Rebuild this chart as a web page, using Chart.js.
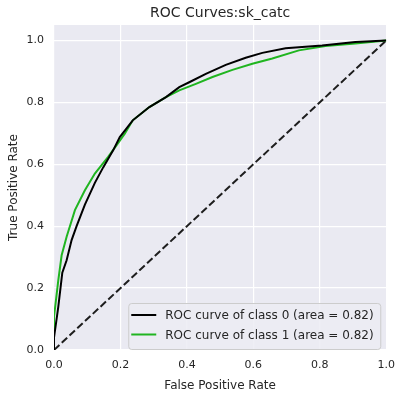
<!DOCTYPE html>
<html>
<head>
<meta charset="utf-8">
<script src="https://cdn.jsdelivr.net/npm/chart.js@4/dist/chart.umd.min.js"></script>
<style>
  html, body { margin: 0; padding: 0; background: #fff; }
  #wrap { width: 404px; height: 397px; }
</style>
</head>
<body>
<div id="wrap"><canvas id="roc"></canvas></div>
<script>
// values
const fpr0 = [0, 0, 0.013, 0.025, 0.038, 0.053, 0.068, 0.093, 0.123, 0.148, 0.178, 0.198, 0.237, 0.287, 0.337, 0.377, 0.407, 0.457, 0.517, 0.577, 0.627, 0.697, 0.807, 0.907, 1.0];
const tpr0 = [0, 0.04, 0.14, 0.25, 0.29, 0.355, 0.40, 0.47, 0.54, 0.59, 0.645, 0.688, 0.742, 0.785, 0.817, 0.849, 0.865, 0.892, 0.921, 0.944, 0.960, 0.975, 0.984, 0.995, 1.0];
const fpr1 = [0, 0, 0.013, 0.023, 0.038, 0.063, 0.093, 0.123, 0.163, 0.188, 0.213, 0.237, 0.287, 0.337, 0.377, 0.427, 0.477, 0.537, 0.597, 0.657, 0.737, 0.817, 0.907, 1.0];
const tpr1 = [0, 0.107, 0.226, 0.306, 0.366, 0.452, 0.516, 0.57, 0.624, 0.661, 0.699, 0.742, 0.785, 0.817, 0.839, 0.86, 0.882, 0.905, 0.925, 0.942, 0.968, 0.982, 0.99, 1.0];
const diagX = [0, 1];
const diagY = [0, 1];
const tickVals = [0, 0.2, 0.4, 0.6, 0.8, 1.0];
const labels = ['ROC curve of class 0 (area = 0.82)', 'ROC curve of class 1 (area = 0.82)'];
const title = 'ROC Curves:sk_catc';

const font = "'DejaVu Sans', sans-serif";
const textColor = '#262626';

function pts(xs, ys) {
    return xs.map((x, i) => ({ x: x, y: ys[i] }));
}

// background, title and inside legend like seaborn darkgrid
const sbPlugin = {
    id: 'sbPlugin',
    beforeDraw(chart) {
        const a = chart.chartArea, ctx = chart.ctx;
        ctx.save();
        ctx.fillStyle = '#EAEAF2';
        ctx.fillRect(a.left, a.top, a.right - a.left, a.bottom - a.top);
        ctx.restore();
    },
    afterDraw(chart) {
        const a = chart.chartArea, ctx = chart.ctx;
        ctx.save();
        ctx.fillStyle = textColor;
        ctx.font = '14px ' + font;
        ctx.textAlign = 'center';
        ctx.textBaseline = 'middle';
        ctx.fillText(title, (a.left + a.right) / 2, 13);

        // legend box
        const w = 252, h = 46;
        const x0 = a.right - 6 - w, y0 = a.bottom - 1 - h;
        ctx.beginPath();
        ctx.roundRect(x0 + 0.5, y0 + 0.5, w, h, 3);
        ctx.fillStyle = 'rgba(236,236,243,0.85)';
        ctx.fill();
        ctx.strokeStyle = '#cccccc';
        ctx.lineWidth = 1;
        ctx.stroke();
        ctx.font = '12px ' + font;
        ctx.textAlign = 'left';
        chart.data.datasets.slice(0, 2).forEach((ds, i) => {
            const y = y0 + 12 + i * 19.5;
            ctx.beginPath();
            ctx.moveTo(x0 + 3, y);
            ctx.lineTo(x0 + 28, y);
            ctx.strokeStyle = ds.borderColor;
            ctx.lineWidth = 2;
            ctx.stroke();
            ctx.fillStyle = textColor;
            ctx.fillText(ds.label, x0 + 37, y + 1);
        });
        ctx.restore();
    }
};

const ctx = document.getElementById('roc').getContext('2d');
const myChart = new Chart(ctx, {
    type: 'line',
    data: {
        datasets: [
            { label: labels[0], data: pts(fpr0, tpr0), borderColor: '#000000', borderWidth: 2, pointRadius: 0, tension: 0 },
            { label: labels[1], data: pts(fpr1, tpr1), borderColor: '#20b520', borderWidth: 2, pointRadius: 0, tension: 0 },
            { label: 'diag', data: pts(diagX, diagY), borderColor: '#1e1e1e', borderWidth: 2, borderDash: [7.4, 3.2], pointRadius: 0 }
        ]
    },
    options: {
        responsive: true,
        maintainAspectRatio: false,
        animation: false,
        layout: { padding: { top: 25, right: 16, left: 0, bottom: 0 } },
        plugins: {
            legend: { display: false },
            title: { display: false },
            tooltip: { enabled: false }
        },
        scales: {
            x: {
                type: 'linear',
                min: 0,
                max: 1,
                afterFit: s => { s.height = 47; },
                afterBuildTicks: s => { s.ticks = tickVals.map(v => ({ value: v })); },
                grid: { color: '#ffffff', lineWidth: 1.2, drawTicks: false },
                border: { display: false },
                ticks: { color: textColor, font: { family: font, size: 11 }, padding: 9, callback: v => v.toFixed(1), maxRotation: 0 },
                title: { display: true, text: 'False Positive Rate', color: textColor, font: { family: font, size: 12 }, padding: { top: 1 } }
            },
            y: {
                type: 'linear',
                min: 0,
                max: 1.05,
                afterFit: s => { s.width = 54; },
                afterBuildTicks: s => { s.ticks = tickVals.map(v => ({ value: v })); },
                grid: { color: '#ffffff', lineWidth: 1.2, drawTicks: false },
                border: { display: false },
                ticks: { color: textColor, font: { family: font, size: 11 }, padding: 10, callback: v => v.toFixed(1) },
                title: { display: true, text: 'True Positive Rate', color: textColor, font: { family: font, size: 12 }, padding: { top: 7, bottom: 0 } }
            }
        }
    },
    plugins: [sbPlugin]
});
</script>
</body>
</html>
